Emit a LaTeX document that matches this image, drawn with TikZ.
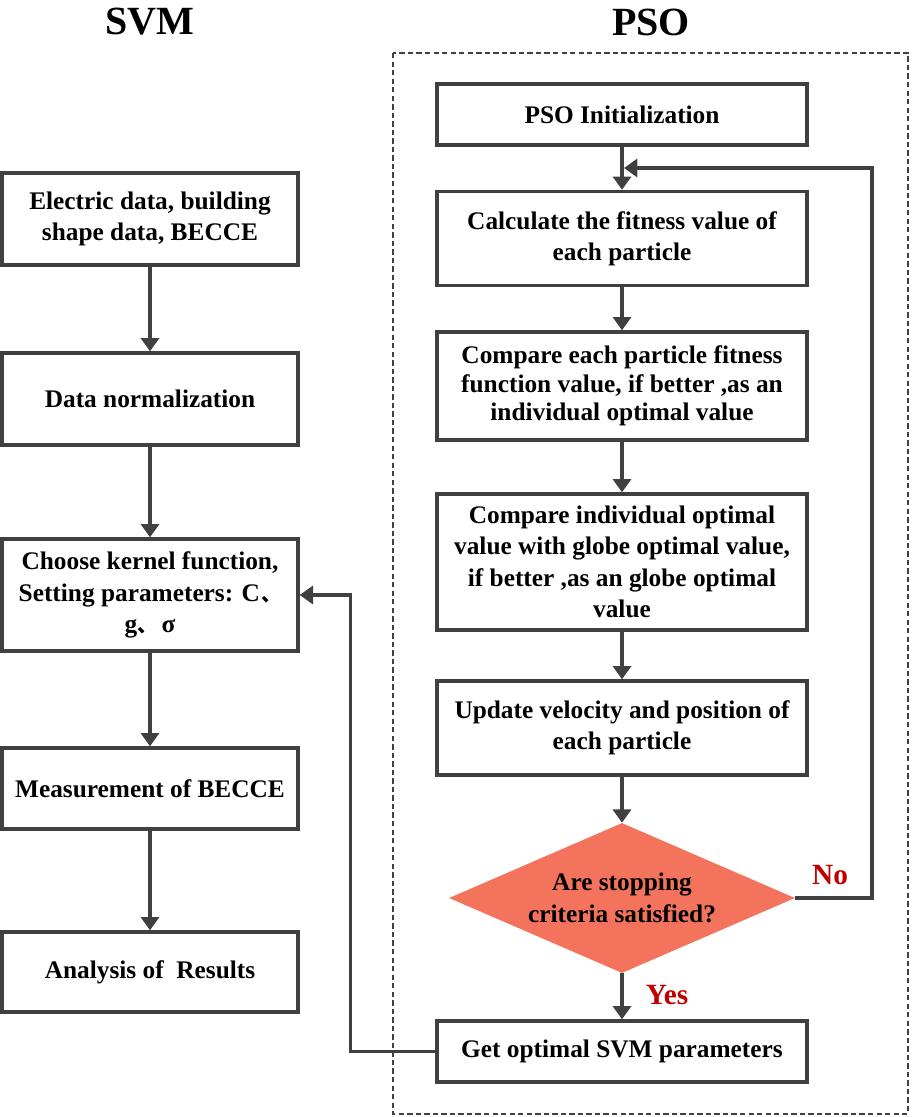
\documentclass[tikz,border=0pt]{standalone}
\usepackage{fontspec}
\setmainfont{Liberation Serif}
\newfontfamily\cjk{Noto Sans CJK SC}
\usetikzlibrary{arrows.meta,shapes.geometric}
\definecolor{lc}{RGB}{64,64,64}
\definecolor{dfill}{RGB}{244,115,92}
\definecolor{lab}{RGB}{192,0,0}
\tikzset{
  box/.style={draw=lc, line width=2.5pt, align=center, inner sep=0pt,
    font=\bfseries\fontsize{19}{23.5}\selectfont},
  lbox/.style={box, minimum width=296*0.75pt},
  rbox/.style={box, minimum width=370*0.75pt},
  arr/.style={draw=lc, line width=2.5pt, -{Triangle[length=10pt,width=13.5pt]}},
  title/.style={font=\bfseries\fontsize{30}{34}\selectfont, inner sep=0pt},
  yn/.style={font=\bfseries\fontsize{22}{24}\selectfont, text=lab, inner sep=0pt},
  frame/.style={draw=lc, line width=1.7pt, dash pattern=on 4pt off 2.4pt}
}
\begin{document}
\begin{tikzpicture}[x=0.75pt,y=-0.75pt]
\useasboundingbox (0,0) rectangle (913,1117);
% titles
\node[title] (tsvm) at (150,22) {SVM};
\node[title] (tpso) at (651,22) {PSO};
% dashed frame
\draw[frame] (393,53) rectangle (908,1114);
% SVM column
\node[lbox, minimum height=92*0.75pt] (b1) at (150,219) {Electric data, building\\shape data, BECCE};
\node[lbox, minimum height=92*0.75pt] (b2) at (150,399) {Data normalization};
\node[lbox, minimum height=112*0.75pt] (b3) at (150,595) {Choose kernel function,\\Setting parameters: C\hspace{0.05em}{\cjk\fontsize{15}{15}\selectfont 、}\hspace{-0.5em}\\g{\cjk\fontsize{15}{15}\selectfont 、}\,σ};
\node[lbox, minimum height=81*0.75pt] (b4) at (150,788.5) {Measurement of BECCE};
\node[lbox, minimum height=80*0.75pt] (b5) at (150,972) {Analysis of \ Results};
% PSO column
\node[rbox, minimum height=61*0.75pt] (p1) at (622,114.5) {PSO Initialization};
\node[rbox, minimum height=94*0.75pt] (p2) at (622,238.5) {Calculate the fitness value of\\each particle};
\node[rbox, minimum height=108*0.75pt, font=\bfseries\fontsize{19}{21.5}\selectfont] (p3) at (622,386) {Compare each particle fitness\\function value, if better ,as an\\individual optimal value};
\node[rbox, minimum height=136*0.75pt] (p4) at (622,562) {Compare individual optimal\\value with globe optimal value,\\if better ,as an globe optimal\\value};
\node[rbox, minimum height=94*0.75pt] (p5) at (622,728) {Update velocity and position of\\each particle};
\node[diamond, aspect=2.3, fill=dfill, inner sep=0pt, minimum width=346*0.75pt, minimum height=150*0.75pt,
      align=center, font=\bfseries\fontsize{19}{23.5}\selectfont] (dia) at (622,898) {Are stopping\\criteria satisfied?};
\node[rbox, minimum height=61*0.75pt] (p6) at (622,1051.5) {Get optimal SVM parameters};
% labels
\node[yn] (no) at (830,875) {No};
\node[yn] (yes) at (667,995) {Yes};
% SVM arrows
\draw[arr] (b1) -- (b2);
\draw[arr] (b2) -- (b3);
\draw[arr] (b3) -- (b4);
\draw[arr] (b4) -- (b5);
% PSO arrows
\draw[arr] (p1) -- (p2);
\draw[arr] (p2) -- (p3);
\draw[arr] (p3) -- (p4);
\draw[arr] (p4) -- (p5);
\draw[arr] (p5) -- (dia);
\draw[arr] (dia) -- (p6);
% loop back
\coordinate (lp) at (624,168);
\draw[arr] (dia.east) -| (872,168) -- (lp);
% feedback to SVM
\draw[arr] (p6.west) -- ++(-85,0) |- (b3.east);
\end{tikzpicture}
\end{document}
